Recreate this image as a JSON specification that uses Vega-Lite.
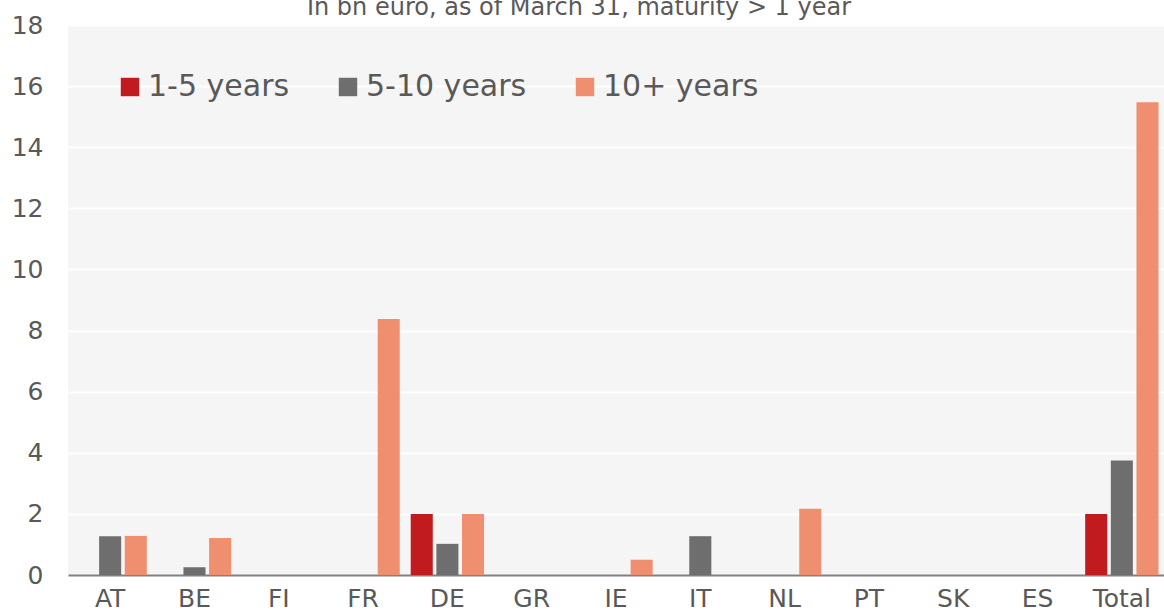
{
  "$schema": "https://vega.github.io/schema/vega-lite/v6.json",
  "autosize": "none",
  "width": 1096,
  "height": 550,
  "padding": {"left": 68, "top": 25, "right": 0, "bottom": 40},
  "background": "white",
  "config": {
    "font": "DejaVu Sans",
    "view": {"fill": "#f5f5f5", "stroke": null}
  },
  "title": {
    "text": "In bn euro, as of March 31, maturity > 1 year",
    "fontSize": 24,
    "fontWeight": "normal",
    "color": "#595959",
    "font": "DejaVu Sans",
    "anchor": "middle",
    "dx": -37,
    "baseline": "alphabetic",
    "offset": -26
  },
  "data": {
    "values": [
      {"country": "AT", "maturity": "1-5 years", "value": 0},
      {"country": "AT", "maturity": "5-10 years", "value": 1.27},
      {"country": "AT", "maturity": "10+ years", "value": 1.28},
      {"country": "BE", "maturity": "1-5 years", "value": 0},
      {"country": "BE", "maturity": "5-10 years", "value": 0.25},
      {"country": "BE", "maturity": "10+ years", "value": 1.21},
      {"country": "FI", "maturity": "1-5 years", "value": 0},
      {"country": "FI", "maturity": "5-10 years", "value": 0},
      {"country": "FI", "maturity": "10+ years", "value": 0},
      {"country": "FR", "maturity": "1-5 years", "value": 0},
      {"country": "FR", "maturity": "5-10 years", "value": 0},
      {"country": "FR", "maturity": "10+ years", "value": 8.38},
      {"country": "DE", "maturity": "1-5 years", "value": 2.0},
      {"country": "DE", "maturity": "5-10 years", "value": 1.02},
      {"country": "DE", "maturity": "10+ years", "value": 2.0},
      {"country": "GR", "maturity": "1-5 years", "value": 0},
      {"country": "GR", "maturity": "5-10 years", "value": 0},
      {"country": "GR", "maturity": "10+ years", "value": 0},
      {"country": "IE", "maturity": "1-5 years", "value": 0},
      {"country": "IE", "maturity": "5-10 years", "value": 0},
      {"country": "IE", "maturity": "10+ years", "value": 0.5},
      {"country": "IT", "maturity": "1-5 years", "value": 0},
      {"country": "IT", "maturity": "5-10 years", "value": 1.27},
      {"country": "IT", "maturity": "10+ years", "value": 0},
      {"country": "NL", "maturity": "1-5 years", "value": 0},
      {"country": "NL", "maturity": "5-10 years", "value": 0},
      {"country": "NL", "maturity": "10+ years", "value": 2.17},
      {"country": "PT", "maturity": "1-5 years", "value": 0},
      {"country": "PT", "maturity": "5-10 years", "value": 0},
      {"country": "PT", "maturity": "10+ years", "value": 0},
      {"country": "SK", "maturity": "1-5 years", "value": 0},
      {"country": "SK", "maturity": "5-10 years", "value": 0},
      {"country": "SK", "maturity": "10+ years", "value": 0},
      {"country": "ES", "maturity": "1-5 years", "value": 0},
      {"country": "ES", "maturity": "5-10 years", "value": 0},
      {"country": "ES", "maturity": "10+ years", "value": 0},
      {"country": "Total", "maturity": "1-5 years", "value": 2.0},
      {"country": "Total", "maturity": "5-10 years", "value": 3.75},
      {"country": "Total", "maturity": "10+ years", "value": 15.47}
    ]
  },
  "mark": {"type": "bar"},
  "encoding": {
    "x": {
      "field": "country",
      "type": "nominal",
      "sort": null,
      "scale": {"paddingInner": 0.13, "paddingOuter": 0.065},
      "axis": {
        "title": null,
        "labelAngle": 0,
        "labelFontSize": 25,
        "labelColor": "#595959",
        "labelPadding": 11,
        "ticks": false,
        "domain": true,
        "domainColor": "#808080",
        "domainWidth": 2,
        "grid": false
      }
    },
    "xOffset": {
      "field": "maturity",
      "type": "nominal",
      "sort": ["1-5 years", "5-10 years", "10+ years"],
      "scale": {"paddingInner": 0.14, "paddingOuter": 0}
    },
    "y": {
      "field": "value",
      "type": "quantitative",
      "scale": {"domain": [0, 18], "nice": false},
      "axis": {
        "title": null,
        "values": [0, 2, 4, 6, 8, 10, 12, 14, 16, 18],
        "labelFontSize": 25,
        "labelColor": "#595959",
        "labelPadding": 25,
        "ticks": false,
        "domain": false,
        "grid": true,
        "gridColor": "#ffffff",
        "gridWidth": 2
      }
    },
    "color": {
      "field": "maturity",
      "type": "nominal",
      "sort": ["1-5 years", "5-10 years", "10+ years"],
      "scale": {
        "domain": ["1-5 years", "5-10 years", "10+ years"],
        "range": ["#C11B1F", "#6E6E6E", "#EF8F6F"]
      },
      "legend": {
        "title": null,
        "orient": "none",
        "legendX": 47,
        "legendY": 47,
        "direction": "horizontal",
        "padding": 0,
        "symbolType": "square",
        "symbolSize": 340,
        "symbolStrokeWidth": 0,
        "labelFontSize": 30,
        "labelLimit": 400,
        "labelColor": "#595959",
        "labelOffset": 3,
        "columnPadding": 43
      }
    }
  }
}
